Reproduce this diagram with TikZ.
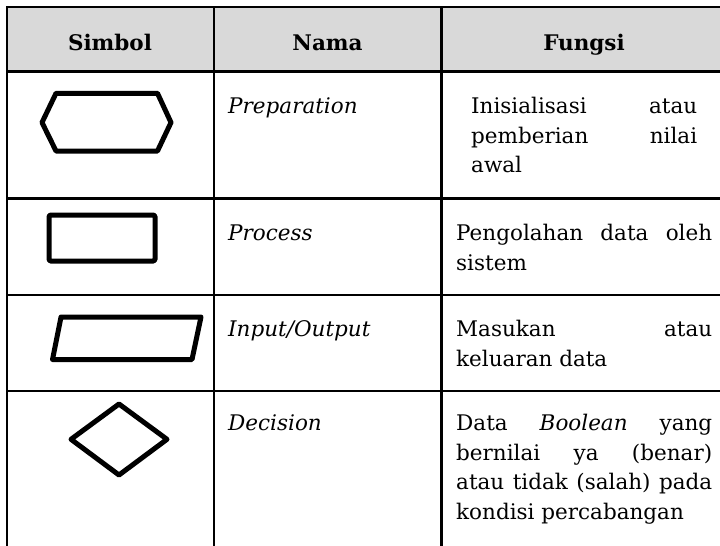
\documentclass[tikz,border=0pt]{standalone}
\usepackage{fontspec}
\setmainfont{DejaVu Serif}
\definecolor{headgray}{HTML}{D9D9D9}
\tolerance=9999
\emergencystretch=20pt
\begin{document}
\begin{tikzpicture}[x=1pt,y=-1pt,
  grid/.style={line width=2.5pt, line cap=rect},
  symbol/.style={line width=5pt, line join=round},
  cellfont/.style={font=\fontsize{21.5}{29.5}\selectfont},
  head/.style={cellfont, anchor=base, inner sep=0pt, font=\fontsize{21.5}{29.5}\selectfont\bfseries},
  itemname/.style={cellfont, anchor=base west, inner sep=0pt, font=\fontsize{21.5}{29.5}\selectfont\itshape},
  desc/.style={cellfont, anchor=base west, inner sep=0pt, text width=256pt, align=justify},
]
\useasboundingbox (0,0) rectangle (720,546);

% header band
\fill[headgray] (7,7) rectangle (730,71.7);

% table rules
\draw[grid] (7,7) -- (730,7);
\draw[grid] (7,71.7) -- (730,71.7);
\draw[grid] (7,198.7) -- (730,198.7);
\draw[grid] (7,295) -- (730,295);
\draw[grid] (7,391) -- (730,391);
\draw[grid] (7,7) -- (7,560);
\draw[grid] (213.8,7) -- (213.8,560);
\draw[grid] (441.5,7) -- (441.5,560);

% header texts
\node[head] (hsym) at (110,50) {Simbol};
\node[head] (hname) at (327.5,50) {Nama};
\node[head] (hfunc) at (584,50) {Fungsi};

% flowchart symbols
\draw[symbol] (42,122.5) -- (56,93.3) -- (157.5,93.3) -- (171,122.5) -- (157.5,151) -- (56,151) -- cycle;
\draw[symbol, rounded corners=1.5pt] (49,215) rectangle (155,261);
\draw[symbol] (61,317) -- (201,317) -- (192,359.5) -- (52.5,359.5) -- cycle;
\draw[symbol] (119,404) -- (167,439.3) -- (119,475) -- (71,439.3) -- cycle;

% symbol names
\node[itemname] (nprep) at (228,113.5) {Preparation};
\node[itemname] (nproc) at (228,240.7) {Process};
\node[itemname] (nio) at (228,336.7) {Input/Output};
\node[itemname] (ndec) at (228,430.7) {Decision};

% descriptions
\node[desc, text width=226pt] (fprep) at (471,113.5)
  {Inisialisasi atau\linebreak pemberian nilai\linebreak awal};
\node[desc] (fproc) at (456,240.5)
  {Pengolahan data oleh\linebreak sistem};
\node[desc] (fio) at (456,336.7)
  {Masukan atau\linebreak keluaran data};
\node[desc] (fdec) at (456,430.5)
  {Data \textit{Boolean} yang\linebreak bernilai ya (benar)\linebreak atau tidak (salah) pada\linebreak kondisi percabangan};
\end{tikzpicture}
\end{document}
